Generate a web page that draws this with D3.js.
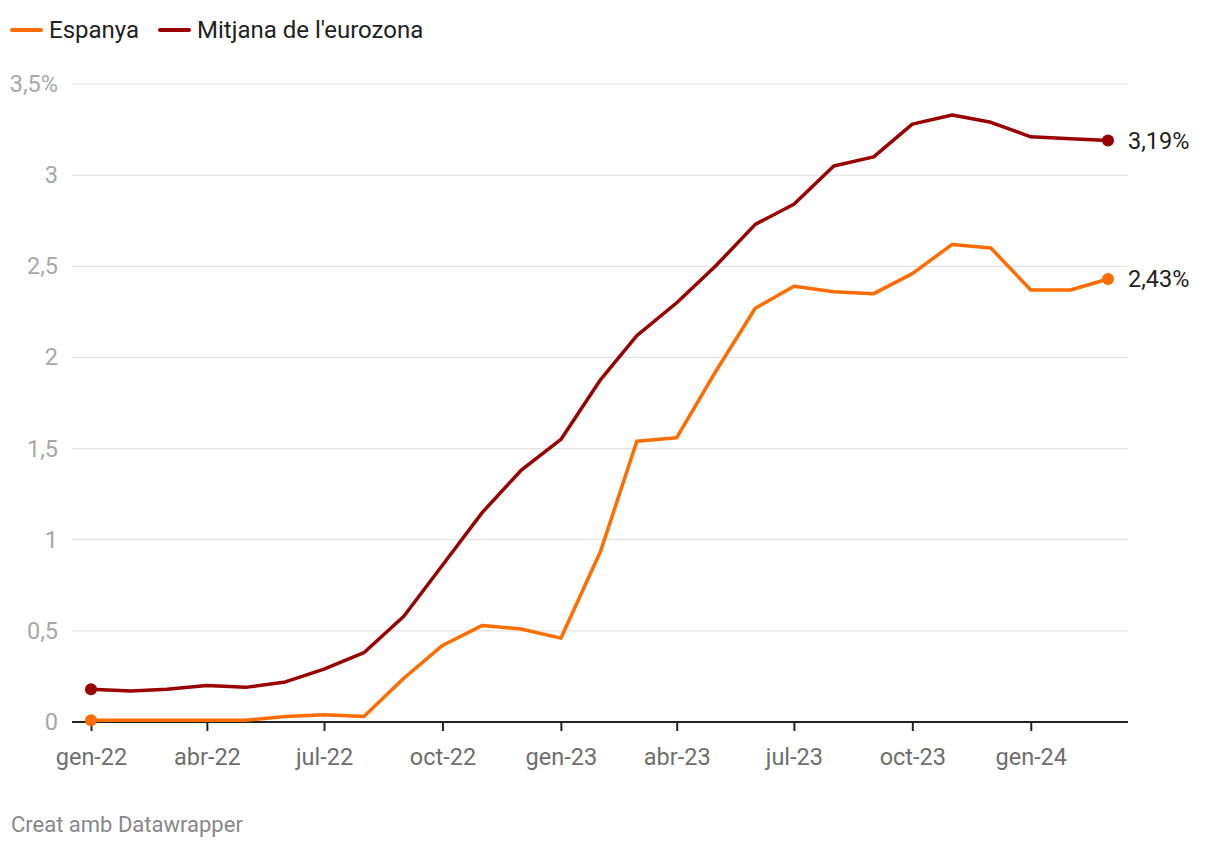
<!DOCTYPE html>
<html><head><meta charset="utf-8">
<script src="https://cdn.jsdelivr.net/npm/d3@7"></script>
<style>body{margin:0;background:#fff;font-family:Roboto,sans-serif}</style>
</head><body><svg id="c" width="1220" height="848"></svg>
<script>
const months = ["2022-01","2022-02","2022-03","2022-04","2022-05","2022-06","2022-07","2022-08","2022-09","2022-10","2022-11","2022-12",
"2023-01","2023-02","2023-03","2023-04","2023-05","2023-06","2023-07","2023-08","2023-09","2023-10","2023-11","2023-12",
"2024-01","2024-02","2024-03"];
const espanya = [0.01,0.01,0.01,0.01,0.01,0.03,0.04,0.03,0.24,0.42,0.53,0.51,0.46,0.94,1.54,1.56,1.92,2.27,2.39,2.36,2.35,2.46,2.62,2.60,2.37,2.37,2.43];
const eurozona = [0.18,0.17,0.18,0.20,0.19,0.22,0.29,0.38,0.58,0.86,1.15,1.38,1.55,1.88,2.12,2.30,2.50,2.73,2.84,3.05,3.10,3.28,3.33,3.29,3.21,3.20,3.19];
const yTicks = [0,0.5,1,1.5,2,2.5,3,3.5];
const xTickMonths = ["2022-01","2022-04","2022-07","2022-10","2023-01","2023-04","2023-07","2023-10","2024-01"];
const xTickLabels = ["gen-22","abr-22","jul-22","oct-22","gen-23","abr-23","jul-23","oct-23","gen-24"];
const seriesNames = ["Espanya","Mitjana de l'eurozona"];
const colors = ["#ff6c00","#990000"];

const svg = d3.select("#c");
const parse = d3.timeParse("%Y-%m");
const dates = months.map(parse);
const x = d3.scaleTime().domain([dates[0], dates[dates.length-1]]).range([91,1108]);
const y = d3.scaleLinear().domain([0,3.5]).range([722,84]);
const fmt = v => (v===3.5 ? "3,5%" : String(v).replace(".",","));

// grid
const g = svg.append("g");
g.selectAll("line.grid").data(yTicks.filter(d=>d>0)).join("line")
  .attr("x1",72).attr("x2",1128).attr("y1",d=>y(d)).attr("y2",d=>y(d))
  .attr("stroke","#e3e3e3").attr("stroke-width",1.2);
g.selectAll("text.yl").data(yTicks).join("text")
  .attr("x",58).attr("y",d=>y(d)+8).attr("text-anchor","end")
  .attr("fill","#a8a8a8").attr("font-size",23.5).text(fmt);

// x axis
const xa = svg.append("g").attr("transform","translate(0,722)")
  .call(d3.axisBottom(x).tickValues(xTickMonths.map(parse)).tickSize(9)
  .tickFormat((d,i)=>xTickLabels[i]));
xa.select(".domain").remove();
xa.selectAll(".tick line").attr("stroke","#222").attr("stroke-width",2);
xa.selectAll(".tick text").attr("fill","#6e6e6e").attr("font-size",23.5)
  .attr("font-family","Roboto,sans-serif").attr("y",0).attr("dy",0)
  .attr("transform","translate(0,43)");
svg.append("line").attr("x1",72).attr("x2",1128).attr("y1",722).attr("y2",722)
  .attr("stroke","#222").attr("stroke-width",2);

// lines
const line = d3.line().x((d,i)=>x(dates[i])).y(d=>y(d));
[espanya, eurozona].forEach((s,k)=>{
  svg.append("path").datum(s).attr("d",line).attr("fill","none")
    .attr("stroke",colors[k]).attr("stroke-width",3.5).attr("stroke-linejoin","round");
  svg.append("circle").attr("cx",x(dates[0])).attr("cy",y(s[0])).attr("r",6).attr("fill",colors[k]);
  const n = s.length-1;
  svg.append("circle").attr("cx",x(dates[n])).attr("cy",y(s[n])).attr("r",6).attr("fill",colors[k]);
  svg.append("text").attr("x",x(dates[n])+20).attr("y",y(s[n])+8)
    .attr("fill","#222").attr("font-size",23.5).text(s[n].toFixed(2).replace(".",",")+"%");
});

// legend
const legX = [12,160];
seriesNames.forEach((nm,k)=>{
  svg.append("line").attr("x1",legX[k]).attr("x2",legX[k]+29).attr("y1",30).attr("y2",30)
    .attr("stroke",colors[k]).attr("stroke-width",4).attr("stroke-linecap","round");
  svg.append("text").attr("x",legX[k]+37).attr("y",38).attr("font-size",24).attr("fill","#222").text(nm);
});

svg.append("text").attr("x",11).attr("y",832).attr("font-size",22).attr("fill","#888").text("Creat amb Datawrapper");
</script></body></html>
